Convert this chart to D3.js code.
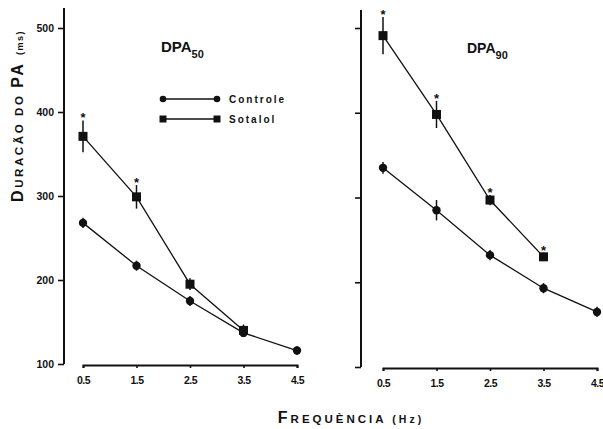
<!DOCTYPE html>
<html lang="pt">
<head>
<meta charset="UTF-8">
<title>DPA50 / DPA90</title>
<script src="https://cdn.jsdelivr.net/npm/d3@7"></script>
<style>
  body { margin: 0; background: #fff; }
  text { font-family: "Liberation Sans", Arial, sans-serif; font-weight: bold; fill: #111; }
</style>
</head>
<body>
<script>
// frequencies (Hz) and tick labels
const freqs = [0.5, 1.5, 2.5, 3.5, 4.5];
const xTickLabels = ["0.5", "1.5", "2.5", "3.5", "4.5"];
const yTicks = [100, 200, 300, 400, 500];

// DPA50 (ms)
const dpa50Controle = [268, 217, 175, 137, 116];
const dpa50ControleErr = [6, 6, 6, 5, 5];
const dpa50Sotalol = [371, 299, 195, 140];
const dpa50SotalolErr = [19, 14, 7, 7];
const dpa50Sig = [true, true, false, false];

// DPA90 (ms)
const dpa90Controle = [335, 285, 232, 193, 165];
const dpa90ControleErr = [7, 12, 6, 6, 6];
const dpa90Sotalol = [491, 398, 297, 230];
const dpa90SotalolErr = [22, 16, 6, 5];
const dpa90Sig = [true, true, true, true];

const width = 603, height = 429;
const svg = d3.select("body").append("svg")
    .attr("width", width).attr("height", height);

const panels = [
    {name: "50", axisX: 64, x0: 83, x1: 297, xAxisY: 365, yTop: 28, yBottom: 364, lineTop: 8, showLabels: true,
     ctrl: dpa50Controle, ctrlErr: dpa50ControleErr, sot: dpa50Sotalol, sotErr: dpa50SotalolErr, sig: dpa50Sig,
     titleX: 161, titleY: 52, titleSize: 15},
    {name: "90", axisX: 361, x0: 383, x1: 597, xAxisY: 368, yTop: 28, yBottom: 367, lineTop: 10, showLabels: false,
     ctrl: dpa90Controle, ctrlErr: dpa90ControleErr, sot: dpa90Sotalol, sotErr: dpa90SotalolErr, sig: dpa90Sig,
     titleX: 467, titleY: 53, titleSize: 14}
];

panels.forEach(p => {
    const x = d3.scaleLinear().domain([0.5, 4.5]).range([p.x0, p.x1]);
    const y = d3.scaleLinear().domain([100, 500]).range([p.yBottom, p.yTop]);
    const g = svg.append("g");

    // y axis
    const ya = g.append("g")
        .attr("transform", `translate(${p.axisX},0)`)
        .call(d3.axisLeft(y).tickValues(yTicks).tickSize(6).tickPadding(4)
            .tickFormat(p.showLabels ? d3.format("d") : () => ""));
    ya.select(".domain").remove();
    ya.selectAll(".tick line").attr("stroke", "#111").attr("stroke-width", 1.6);
    ya.selectAll("text").style("font-size", "10.5px").attr("fill", "#111")
        .style("font-family", "'Liberation Sans', Arial, sans-serif").style("font-weight", "bold");
    g.append("line")
        .attr("x1", p.axisX).attr("x2", p.axisX)
        .attr("y1", p.lineTop).attr("y2", p.yBottom)
        .attr("stroke", "#111").attr("stroke-width", 2);

    // x axis
    const xa = g.append("g")
        .attr("transform", `translate(0,${p.xAxisY})`)
        .call(d3.axisBottom(x).tickValues(freqs).tickSize(3).tickPadding(9)
            .tickFormat((d, i) => xTickLabels[i]));
    xa.select(".domain").attr("stroke", "#111").attr("stroke-width", 2);
    xa.selectAll(".tick line").attr("stroke", "#111").attr("stroke-width", 1.6);
    xa.selectAll("text").style("font-size", "10.5px").attr("fill", "#111")
        .style("font-family", "'Liberation Sans', Arial, sans-serif").style("font-weight", "bold")
        .attr("letter-spacing", "-0.5");

    const line = d3.line().x((d, i) => x(freqs[i])).y(d => y(d));

    // Sotalol
    g.append("path").attr("d", line(p.sot))
        .attr("fill", "none").attr("stroke", "#111").attr("stroke-width", 1.3);
    // Controle
    g.append("path").attr("d", line(p.ctrl))
        .attr("fill", "none").attr("stroke", "#111").attr("stroke-width", 1.3);

    // error bars
    p.ctrl.forEach((v, i) => {
        g.append("line").attr("x1", x(freqs[i])).attr("x2", x(freqs[i]))
            .attr("y1", y(v - p.ctrlErr[i])).attr("y2", y(v + p.ctrlErr[i]))
            .attr("stroke", "#111").attr("stroke-width", 1.5);
    });
    p.sot.forEach((v, i) => {
        g.append("line").attr("x1", x(freqs[i])).attr("x2", x(freqs[i]))
            .attr("y1", y(v - p.sotErr[i])).attr("y2", y(v + p.sotErr[i]))
            .attr("stroke", "#111").attr("stroke-width", 1.5);
    });

    // markers
    g.selectAll(".ctrl").data(p.ctrl).enter().append("circle")
        .attr("cx", (d, i) => x(freqs[i])).attr("cy", d => y(d))
        .attr("r", 4.2).attr("fill", "#111");
    g.selectAll(".sot").data(p.sot).enter().append("rect")
        .attr("x", (d, i) => x(freqs[i]) - 4.5).attr("y", d => y(d) - 4.5)
        .attr("width", 9).attr("height", 9).attr("fill", "#111");

    // significance asterisks
    p.sot.forEach((v, i) => {
        if (!p.sig[i]) return;
        g.append("text")
            .attr("x", x(freqs[i])).attr("y", y(v + p.sotErr[i]) + 2)
            .attr("text-anchor", "middle").style("font-size", "13px").text("*");
    });

    // panel title
    const t = g.append("text").attr("x", p.titleX).attr("y", p.titleY)
        .style("font-size", p.titleSize + "px");
    t.append("tspan").text("DPA");
    t.append("tspan").attr("dy", 6).style("font-size", "11px").text(p.name);
});

// legend
const leg = svg.append("g");
const legendRows = [{label: "Controle", y: 99, shape: "circle"}, {label: "Sotalol", y: 119, shape: "square"}];
legendRows.forEach(r => {
    leg.append("line").attr("x1", 163).attr("x2", 217).attr("y1", r.y).attr("y2", r.y)
        .attr("stroke", "#111").attr("stroke-width", 1.3);
    [163, 217].forEach(cx => {
        if (r.shape === "circle") {
            leg.append("circle").attr("cx", cx).attr("cy", r.y).attr("r", 3.3).attr("fill", "#111");
        } else {
            leg.append("rect").attr("x", cx - 3.5).attr("y", r.y - 3.5)
                .attr("width", 7).attr("height", 7).attr("fill", "#111");
        }
    });
    leg.append("text").attr("x", 229).attr("y", r.y + 4)
        .style("font-size", "10px").attr("letter-spacing", "2").text(r.label);
});

// axis titles
const yl = svg.append("text")
    .attr("transform", "translate(23,116) rotate(-90)")
    .attr("text-anchor", "middle").attr("letter-spacing", "2.6");
yl.append("tspan").style("font-size", "16px").text("D");
yl.append("tspan").style("font-size", "11.5px").text("URACÃO DO ");
yl.append("tspan").style("font-size", "16px").text("PA ");
yl.append("tspan").style("font-size", "9px").attr("letter-spacing", "1.5").text("(ms)");

const xl = svg.append("text")
    .attr("x", 351).attr("y", 423)
    .attr("text-anchor", "middle").attr("letter-spacing", "3");
xl.append("tspan").style("font-size", "16px").text("F");
xl.append("tspan").style("font-size", "11.5px").text("REQUÈNCIA ");
xl.append("tspan").style("font-size", "10.5px").text("(Hz)");
</script>
</body>
</html>
